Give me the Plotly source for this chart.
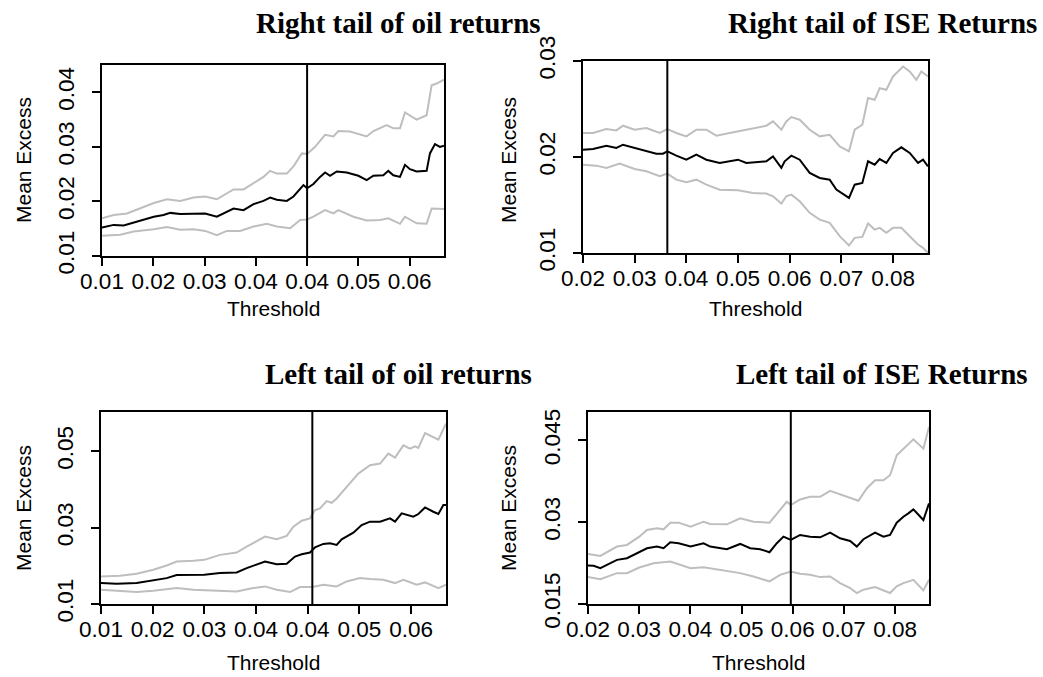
import plotly.graph_objects as go

# ---------------- data ----------------
# Panel 1: Right tail of oil returns
ro_mid_x = [0.0100,0.01227,0.01422,0.01617,0.01812,0.0201,0.0220,0.02331,0.02526,0.02786,0.0301,0.03240,0.03435,0.03565,0.03760,0.03955,0.04149,0.04279,0.04409,0.04604,0.04734,0.04831,0.04929,0.0500,0.05123,0.05253,0.05351,0.05448,0.05578,0.05773,0.0600,0.06162,0.06292,0.06487,0.06584,0.06682,0.06812,0.06909,0.07006,0.07136,0.07331,0.07396,0.07494,0.07591,0.07669]
ro_mid_y = [0.0152,0.0157,0.0156,0.0161,0.0166,0.0172,0.0175,0.0179,0.0177,0.0178,0.0178,0.0172,0.0181,0.0187,0.0184,0.0195,0.0201,0.0207,0.0203,0.0201,0.0209,0.0220,0.0230,0.0224,0.0232,0.0245,0.0253,0.0247,0.0255,0.0253,0.0247,0.0239,0.0247,0.0248,0.0256,0.0248,0.0245,0.0267,0.0259,0.0255,0.0256,0.0288,0.0305,0.0300,0.0302]
ro_up_x = [0.0100,0.01227,0.01487,0.01747,0.0201,0.02266,0.02526,0.02786,0.0301,0.03240,0.03435,0.03565,0.03760,0.03955,0.04149,0.04279,0.04409,0.04604,0.04734,0.04896,0.0500,0.05156,0.05351,0.05513,0.05610,0.05838,0.0600,0.06162,0.06292,0.06552,0.06682,0.06812,0.06909,0.07136,0.07331,0.07429,0.07526,0.07669]
ro_up_y = [0.0169,0.0175,0.0178,0.0187,0.0197,0.0204,0.0201,0.0207,0.0209,0.0204,0.0215,0.0222,0.0222,0.0234,0.0245,0.0256,0.0251,0.0251,0.0264,0.0288,0.0287,0.0300,0.0322,0.0319,0.0329,0.0328,0.0324,0.0319,0.0329,0.0340,0.0334,0.0334,0.0363,0.0350,0.0358,0.0413,0.0416,0.0423]
ro_lo_x = [0.0100,0.01357,0.01617,0.0201,0.02266,0.02526,0.02786,0.0301,0.03240,0.03435,0.03695,0.03955,0.04214,0.04409,0.04669,0.04864,0.0500,0.05123,0.05351,0.05513,0.05610,0.05903,0.06162,0.06422,0.06584,0.06812,0.06909,0.07136,0.07331,0.07429,0.07669]
ro_lo_y = [0.0137,0.0139,0.0145,0.0149,0.0153,0.0148,0.0149,0.0146,0.0138,0.0146,0.0146,0.0154,0.0159,0.0154,0.0151,0.0166,0.0167,0.0172,0.0184,0.0178,0.0184,0.0172,0.0165,0.0166,0.0169,0.0159,0.0172,0.0160,0.0159,0.0187,0.0186]

# Panel 2: Right tail of ISE Returns
ri_mid_x = [0.0200,0.02194,0.02452,0.02645,0.02774,0.0300,0.03226,0.03419,0.03548,0.03632,0.03806,0.0400,0.04194,0.04387,0.04645,0.0500,0.05161,0.05548,0.05677,0.05839,0.05903,0.06032,0.06194,0.06387,0.06581,0.06774,0.06903,0.07032,0.07148,0.07258,0.07406,0.07516,0.07645,0.07742,0.07871,0.0800,0.08161,0.08323,0.08484,0.08581,0.08677]
ri_mid_y = [0.02076,0.02083,0.02118,0.02094,0.02128,0.02094,0.02059,0.02035,0.02035,0.02059,0.02014,0.01972,0.02024,0.01972,0.01938,0.01972,0.01938,0.01955,0.02007,0.01886,0.01955,0.02014,0.01972,0.01834,0.01782,0.01764,0.01660,0.01615,0.01574,0.01712,0.01730,0.01955,0.01920,0.01979,0.01938,0.02042,0.02101,0.02042,0.01938,0.01972,0.01903]
ri_up_x = [0.0200,0.02194,0.02452,0.02645,0.02774,0.0300,0.03226,0.03484,0.03632,0.03806,0.0400,0.04194,0.04387,0.04581,0.04839,0.05161,0.05548,0.05677,0.05839,0.05935,0.06032,0.06194,0.06387,0.06581,0.06774,0.06968,0.07148,0.07258,0.07406,0.07516,0.07645,0.07742,0.07871,0.0800,0.08194,0.08323,0.08452,0.08548,0.08677]
ri_up_y = [0.02250,0.02250,0.02291,0.02277,0.02326,0.02284,0.02302,0.02250,0.02291,0.02250,0.02215,0.02284,0.02284,0.02222,0.02250,0.02284,0.02326,0.02371,0.02284,0.02371,0.02416,0.02388,0.02284,0.02215,0.02232,0.02111,0.02059,0.02284,0.02336,0.02614,0.02596,0.02717,0.02700,0.02839,0.02943,0.02891,0.02804,0.02891,0.02839]
ri_lo_x = [0.0200,0.02258,0.02452,0.02710,0.0300,0.03226,0.03484,0.03632,0.03806,0.0400,0.04194,0.04387,0.04645,0.0500,0.05290,0.05548,0.05677,0.05839,0.05935,0.06032,0.06194,0.06387,0.06581,0.06774,0.06968,0.07148,0.07258,0.07406,0.07516,0.07645,0.07742,0.07871,0.0800,0.08161,0.08323,0.08484,0.08581,0.08677]
ri_lo_y = [0.01920,0.01910,0.01886,0.01931,0.01875,0.01851,0.01799,0.01827,0.01764,0.01737,0.01764,0.01712,0.01660,0.01653,0.01626,0.01619,0.01591,0.01515,0.01591,0.01608,0.01539,0.01418,0.01348,0.01314,0.01175,0.01078,0.01158,0.01168,0.01307,0.01244,0.01262,0.01210,0.01262,0.01262,0.01175,0.01088,0.01054,0.01000]

# Panel 3: Left tail of oil returns
lo_mid_x = [0.0100,0.01303,0.01690,0.02013,0.02271,0.02465,0.02787,0.0300,0.03303,0.03626,0.03819,0.04013,0.04174,0.04400,0.04594,0.04755,0.04884,0.05045,0.05142,0.05303,0.05432,0.05561,0.05658,0.05884,0.06045,0.06206,0.06400,0.06594,0.06690,0.06819,0.07045,0.07142,0.07271,0.07432,0.07529,0.07626,0.07677]
lo_mid_y = [0.01548,0.01530,0.01548,0.01617,0.01678,0.01757,0.01757,0.01765,0.01809,0.01826,0.01939,0.02026,0.02113,0.02043,0.02052,0.02243,0.02304,0.02348,0.02487,0.02574,0.02591,0.02548,0.02696,0.02870,0.03070,0.03157,0.03157,0.03243,0.03157,0.03374,0.03287,0.03357,0.03530,0.03417,0.03357,0.03591,0.03591]
lo_up_x = [0.0100,0.01368,0.01690,0.02013,0.02271,0.02465,0.02787,0.0300,0.03303,0.03626,0.03819,0.04013,0.04174,0.04400,0.04594,0.04723,0.04884,0.05045,0.05142,0.05239,0.05368,0.05465,0.05561,0.05755,0.05981,0.06206,0.06400,0.06561,0.06690,0.06852,0.06981,0.07077,0.07142,0.07271,0.07529,0.07677]
lo_up_y = [0.01722,0.01739,0.01791,0.01896,0.02009,0.02113,0.02130,0.02157,0.02287,0.02348,0.02504,0.02635,0.02765,0.02696,0.02783,0.03026,0.03183,0.03243,0.03461,0.03504,0.03696,0.03652,0.03765,0.04070,0.04417,0.04635,0.04678,0.04939,0.04835,0.05157,0.05070,0.05130,0.05087,0.05478,0.05304,0.05722]
lo_lo_x = [0.0100,0.01368,0.01690,0.02013,0.02465,0.02787,0.03174,0.03626,0.03948,0.04174,0.04400,0.04658,0.04852,0.05090,0.05303,0.05561,0.05755,0.06013,0.06206,0.06465,0.06690,0.06852,0.07110,0.07271,0.07529,0.07677]
lo_lo_y = [0.01374,0.01348,0.01313,0.01348,0.01417,0.01374,0.01357,0.01330,0.01417,0.01461,0.01374,0.01313,0.01443,0.01443,0.01504,0.01461,0.01591,0.01678,0.01652,0.01635,0.01548,0.01635,0.01504,0.01565,0.01417,0.01504]

# Panel 4: Left tail of ISE Returns
li_mid_x = [0.0200,0.02111,0.02241,0.02436,0.02566,0.02761,0.03002,0.03152,0.03347,0.03477,0.03607,0.03770,0.04004,0.04258,0.04388,0.04713,0.04973,0.05169,0.05364,0.05546,0.05689,0.05819,0.05962,0.06144,0.06340,0.06535,0.06730,0.06925,0.07121,0.07251,0.07381,0.07608,0.07771,0.07901,0.08031,0.08161,0.08259,0.08357,0.08552,0.08662]
li_mid_y = [0.02206,0.02200,0.02157,0.02248,0.02309,0.02340,0.02449,0.02522,0.02553,0.02522,0.02632,0.02614,0.02553,0.02614,0.02553,0.02504,0.02601,0.02522,0.02504,0.02449,0.02614,0.02735,0.02674,0.02766,0.02735,0.02723,0.02808,0.02705,0.02656,0.02553,0.02687,0.02808,0.02735,0.02766,0.02991,0.03100,0.03161,0.03234,0.03040,0.03344]
li_up_x = [0.0200,0.02241,0.02566,0.02761,0.03002,0.03152,0.03347,0.03477,0.03607,0.03770,0.04004,0.04258,0.04388,0.04713,0.04973,0.05234,0.05546,0.05689,0.05884,0.05962,0.06144,0.06340,0.06535,0.06730,0.06925,0.07121,0.07283,0.07446,0.07608,0.07771,0.07901,0.08031,0.08161,0.08357,0.08552,0.08662]
li_up_y = [0.02419,0.02382,0.02553,0.02583,0.02735,0.02857,0.02887,0.02869,0.02991,0.02991,0.02918,0.03009,0.02967,0.02960,0.03070,0.03009,0.02991,0.03161,0.03374,0.03313,0.03417,0.03466,0.03466,0.03575,0.03514,0.03453,0.03393,0.03618,0.03770,0.03770,0.03861,0.04226,0.04348,0.04518,0.04348,0.04744]
li_lo_x = [0.0200,0.02241,0.02566,0.02761,0.03002,0.03282,0.03607,0.04004,0.04258,0.04583,0.04973,0.05234,0.05546,0.05754,0.05962,0.06144,0.06340,0.06535,0.06730,0.06925,0.07121,0.07251,0.07381,0.07608,0.07771,0.07901,0.08031,0.08161,0.08357,0.08552,0.08662]
li_lo_y = [0.01993,0.01956,0.02066,0.02066,0.02169,0.02248,0.02279,0.02157,0.02175,0.02127,0.02066,0.02005,0.01914,0.02035,0.02096,0.02054,0.02035,0.01993,0.02005,0.01883,0.01792,0.01701,0.01762,0.01810,0.01750,0.01701,0.01823,0.01883,0.01944,0.01750,0.01944]

# chosen thresholds (vertical lines)
thresholds = [0.0500, 0.03632, 0.0509, 0.05962]

titles = ["Right tail of oil returns", "Right tail of ISE Returns",
          "Left tail of oil returns", "Left tail of ISE Returns"]

oil_xticks = [0.01, 0.02, 0.03, 0.04, 0.05, 0.06, 0.07]
oil_xlabels = ["0.01", "0.02", "0.03", "0.04", "0.04", "0.05", "0.06"]
ise_xticks = [0.02, 0.03, 0.04, 0.05, 0.06, 0.07, 0.08]
ise_xlabels = ["0.02", "0.03", "0.04", "0.05", "0.06", "0.07", "0.08"]

yticks_p1 = [0.01, 0.02, 0.03, 0.04]
yticks_p2 = [0.01, 0.02, 0.03]
yticks_p3 = [0.01, 0.03, 0.05]
yticks_p4 = [0.015, 0.03, 0.045]
ylabels_p4 = ["0.015", "0.03", "0.045"]

# ---------------- figure ----------------
W, H = 1043, 677
GRAY = "#bebebe"
BLACK = "#000000"
SANS = "Liberation Sans, Arial, sans-serif"
SERIF = "Liberation Serif, Times New Roman, serif"

fig = go.Figure()

panels = [
    (ro_mid_x, ro_mid_y, ro_up_x, ro_up_y, ro_lo_x, ro_lo_y),
    (ri_mid_x, ri_mid_y, ri_up_x, ri_up_y, ri_lo_x, ri_lo_y),
    (lo_mid_x, lo_mid_y, lo_up_x, lo_up_y, lo_lo_x, lo_lo_y),
    (li_mid_x, li_mid_y, li_up_x, li_up_y, li_lo_x, li_lo_y),
]

for i, (mx, my, ux, uy, lx, ly) in enumerate(panels):
    xa = "x" if i == 0 else f"x{i+1}"
    ya = "y" if i == 0 else f"y{i+1}"
    fig.add_trace(go.Scatter(x=ux, y=uy, mode="lines", line=dict(color=GRAY, width=2),
                             xaxis=xa, yaxis=ya, showlegend=False, hoverinfo="skip"))
    fig.add_trace(go.Scatter(x=lx, y=ly, mode="lines", line=dict(color=GRAY, width=2),
                             xaxis=xa, yaxis=ya, showlegend=False, hoverinfo="skip"))
    fig.add_trace(go.Scatter(x=mx, y=my, mode="lines", line=dict(color=BLACK, width=2),
                             xaxis=xa, yaxis=ya, showlegend=False))
    fig.add_shape(type="line", xref=xa, yref=f"{ya} domain", x0=thresholds[i], x1=thresholds[i],
                  y0=0, y1=1, line=dict(color=BLACK, width=2))

def px_x(p):
    return p / W

def px_y(p):
    return 1 - p / H

# plot area boxes in pixels (left, right, top, bottom)
boxes = [(102, 444, 65, 256), (583, 928, 61, 253), (101, 446, 412, 604), (588, 929, 412, 604)]
xranges = [[0.01, 0.0767], [0.02, 0.08677], [0.01, 0.07677], [0.02, 0.08662]]
yranges = [[0.01, 0.045], [0.01, 0.03], [0.01, 0.0603], [0.015, 0.0502]]
xt = [(oil_xticks, oil_xlabels), (ise_xticks, ise_xlabels), (oil_xticks, oil_xlabels), (ise_xticks, ise_xlabels)]
yt = [(yticks_p1, ["0.01", "0.02", "0.03", "0.04"]), (yticks_p2, ["0.01", "0.02", "0.03"]),
      (yticks_p3, ["0.01", "0.03", "0.05"]), (yticks_p4, ylabels_p4)]

axis_common = dict(showgrid=False, zeroline=False, showline=True, linecolor=BLACK, linewidth=2,
                   mirror=True, ticks="outside", ticklen=8, tickwidth=1.5, tickcolor=BLACK,
                   automargin=False,
                   tickfont=dict(family=SANS, size=22.5, color=BLACK))

layout_axes = {}
for i in range(4):
    l, r, t, b = boxes[i]
    suffix = "" if i == 0 else str(i + 1)
    layout_axes[f"xaxis{suffix}"] = dict(
        axis_common, domain=[px_x(l), px_x(r)], range=xranges[i],
        tickmode="array", tickvals=xt[i][0], ticktext=xt[i][1], tickangle=0,
        anchor=f"y{suffix}", ticklabelstandoff=-4)
    layout_axes[f"yaxis{suffix}"] = dict(
        axis_common, domain=[px_y(b), px_y(t)], range=yranges[i],
        tickmode="array", tickvals=yt[i][0], ticktext=yt[i][1], tickangle=-90,
        anchor=f"x{suffix}", ticklabelstandoff=9)

annotations = []
title_pos = [(398, 23), (882, 23), (398, 374), (882, 374)]
for i, (cx, cy) in enumerate(title_pos):
    annotations.append(dict(text=titles[i], x=px_x(cx), y=px_y(cy), xref="paper", yref="paper",
                            xanchor="center", yanchor="middle", showarrow=False,
                            font=dict(family=SERIF, size=29, color=BLACK, weight="bold")))

xlab_pos = [(273, 309), (755, 309), (273, 662), (758, 662)]
for cx, cy in xlab_pos:
    annotations.append(dict(text="Threshold", x=px_x(cx), y=px_y(cy), xref="paper", yref="paper",
                            xanchor="center", yanchor="middle", showarrow=False,
                            font=dict(family=SANS, size=21, color=BLACK)))

ylab_pos = [(23, 160), (508, 160), (23, 508), (508, 508)]
for cx, cy in ylab_pos:
    annotations.append(dict(text="Mean Excess", x=px_x(cx), y=px_y(cy), xref="paper", yref="paper",
                            xanchor="center", yanchor="middle", showarrow=False, textangle=-90,
                            font=dict(family=SANS, size=21, color=BLACK)))

fig.update_layout(
    width=W, height=H, margin=dict(l=0, r=0, t=0, b=0, autoexpand=False),
    paper_bgcolor="white", plot_bgcolor="white",
    annotations=annotations, **layout_axes,
)

fig.write_html("out.html")
